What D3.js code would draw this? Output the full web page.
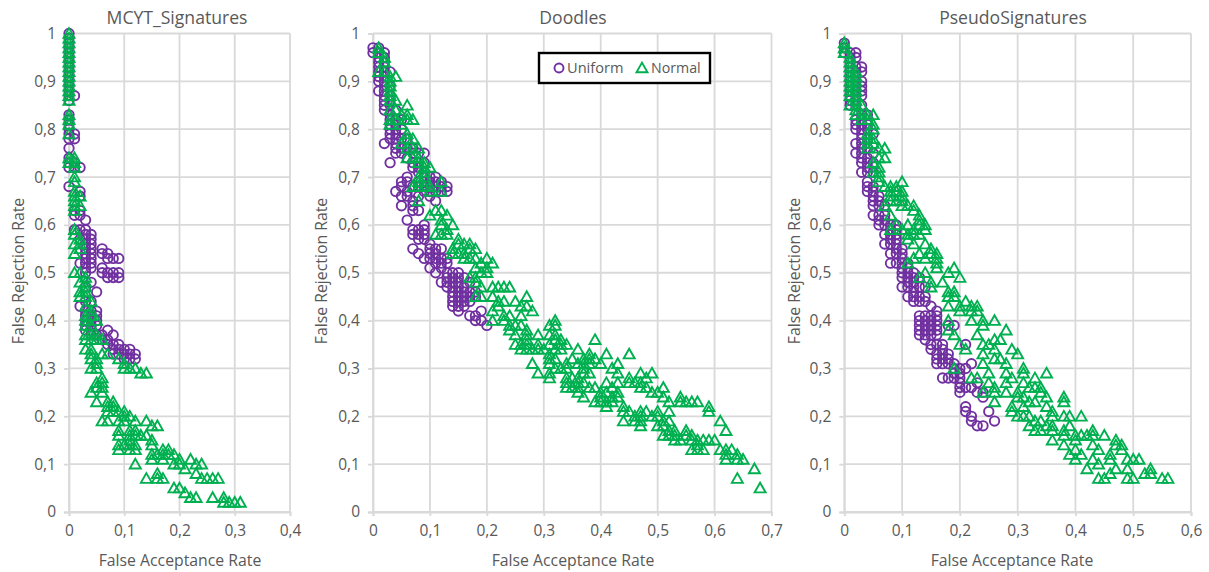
<!DOCTYPE html>
<html><head><meta charset="utf-8">
<script src="https://cdn.jsdelivr.net/npm/d3@7/dist/d3.min.js"></script>
<style>html,body{margin:0;padding:0;background:#fff}svg{display:block}text{font-family:"Open Sans",sans-serif}</style>
</head><body><svg id="c" width="1209" height="572"></svg>
<script>
// Uniform series: [x, [y values at that x]]
const mcytUniform=[
[0,[1,.99,.98,.97,.96,.95,.94,.93,.92,.91,.9,.89,.88,.87,.86,.83,.82,.81,.8,.79,.78,.76,.74,.73,.72,.68]],
[.01,[.87,.79,.78,.73,.72,.63,.62,.59]],
[.02,[.72,.67,.66,.63,.62,.59,.57,.52,.43]],
[.03,[.61,.59,.58,.57,.56,.55,.54,.53,.52,.51,.5,.47,.44,.42,.41,.4,.39,.38]],
[.04,[.58,.57,.56,.55,.54,.53,.52,.51,.48,.44,.42,.41,.4,.39,.38,.37]],
[.05,[.46,.42,.41,.4,.39,.37]],
[.06,[.55,.54,.51,.5,.37,.36]],
[.07,[.54,.53,.5,.49,.38,.36,.35]],
[.08,[.53,.5,.49,.37,.35,.34,.33]],
[.09,[.53,.5,.49,.35,.34,.33]],
[.1,[.34,.33,.32]],
[.11,[.34,.33,.32]],
[.12,[.33,.32]]];
const doodlesUniform=[
[0,[.97,.96]],
[.01,[.97,.96,.95,.94,.93,.92,.91,.9,.88]],
[.02,[.96,.95,.94,.93,.92,.91,.9,.89,.88,.87,.86,.85,.84,.77]],
[.03,[.92,.89,.87,.86,.85,.83,.82,.81,.8,.79,.78,.73]],
[.04,[.84,.82,.81,.8,.79,.78,.77,.76,.75,.67]],
[.05,[.82,.8,.78,.76,.75,.69,.68,.66,.64]],
[.06,[.78,.76,.74,.7,.69,.67,.66,.61]],
[.07,[.76,.75,.73,.72,.68,.65,.64,.63,.59,.58,.55]],
[.08,[.75,.73,.72,.71,.69,.68,.66,.63,.59,.58,.57,.54]],
[.09,[.75,.73,.71,.7,.69,.68,.67,.6,.59,.58,.57,.53]],
[.1,[.7,.69,.68,.67,.66,.56,.55,.54,.53,.51]],
[.11,[.7,.69,.68,.67,.65,.55,.54,.53,.52,.5]],
[.12,[.69,.68,.67,.55,.53,.52,.51,.48]],
[.13,[.68,.67,.53,.52,.5,.49,.48,.47]],
[.14,[.5,.49,.48,.47,.46,.45,.44,.43]],
[.15,[.5,.49,.48,.47,.46,.45,.44,.43,.42]],
[.16,[.49,.47,.46,.45,.44,.43]],
[.17,[.48,.46,.45,.44,.41]],
[.18,[.46,.45,.41,.4]],
[.19,[.42,.4]],
[.2,[.39]]];
const pseudoUniform=[
[0,[.98,.97,.96]],
[.01,[.96,.95,.94,.93,.92,.91,.9,.89,.88,.87,.86,.85]],
[.02,[.96,.95,.93,.92,.91,.9,.89,.88,.87,.86,.85,.82,.81,.8,.77,.75]],
[.03,[.93,.92,.9,.89,.88,.87,.85,.83,.82,.81,.8,.79,.78,.77,.76,.75,.74,.73,.71]],
[.04,[.83,.81,.8,.78,.76,.74,.73,.72,.71,.69,.68,.67]],
[.05,[.79,.75,.73,.71,.68,.67,.66,.65,.64,.62]],
[.06,[.66,.65,.64,.62,.61,.6]],
[.07,[.64,.62,.61,.6,.58,.56]],
[.08,[.6,.59,.58,.57,.56,.54,.52]],
[.09,[.6,.59,.58,.57,.56,.55,.54,.52]],
[.1,[.55,.54,.53,.52,.51,.5,.49,.47]],
[.11,[.52,.51,.5,.49,.48,.47,.45]],
[.12,[.5,.49,.48,.47,.46,.45,.44]],
[.13,[.49,.47,.45,.44,.41,.4,.39,.38,.37]],
[.14,[.47,.45,.44,.41,.4,.39,.38,.37,.36]],
[.15,[.43,.41,.4,.39,.38,.37,.35,.34]],
[.16,[.42,.41,.4,.39,.38,.37,.35,.33,.32,.31]],
[.17,[.35,.34,.33,.32,.31,.28]],
[.18,[.39,.33,.32,.31,.28]],
[.19,[.39,.31,.3,.29,.28]],
[.2,[.3,.29,.28,.27,.26,.25]],
[.21,[.35,.3,.26,.22,.21]],
[.22,[.31,.26,.2,.19]],
[.23,[.27,.25,.18]],
[.24,[.25,.24,.18]],
[.25,[.21]],
[.26,[.19]]];
// Normal series: [x, y]
const mcytNormal=[[0,1],[0,.99],[0,.98],[0,.97],[0,.96],[0,.95],[0,.94],[0,.93],[0,.92],[0,.91],[0,.9],[0,.89],[0,.88],[0,.87],[0,.86],[0,.83],[0,.82],[0,.81],[0,.79],[0,.74],[0,.73],[.01,.74],[.01,.73],[.01,.72],[.01,.7],[.01,.69],[.01,.67],[.01,.66],[.01,.65],[.01,.64],[.01,.63],[.02,.66],[.02,.64],[.01,.59],[.01,.58],[.01,.56],[.01,.54],[.02,.57],[.02,.56],[.02,.55],[.01,.5],[.02,.5],[.02,.48],[.03,.49],[.03,.48],[.03,.47],[.02,.46],[.02,.45],[.03,.46],[.03,.45],[.03,.43],[.04,.44],[.04,.42],[.03,.41],[.03,.4],[.03,.39],[.04,.41],[.05,.4],[.04,.39],[.03,.37],[.03,.36],[.04,.37],[.04,.36],[.05,.37],[.05,.36],[.06,.36],[.03,.34],[.04,.34],[.04,.33],[.04,.32],[.05,.32],[.05,.31],[.04,.3],[.05,.3],[.07,.33],[.06,.33],[.09,.32],[.1,.31],[.1,.3],[.11,.3],[.12,.3],[.13,.29],[.14,.29],[.06,.28],[.06,.27],[.05,.27],[.06,.26],[.05,.26],[.04,.25],[.06,.25],[.05,.23],[.07,.23],[.08,.23],[.07,.22],[.08,.22],[.08,.21],[.07,.21],[.09,.21],[.1,.21],[.1,.2],[.11,.2],[.1,.19],[.12,.19],[.06,.19],[.07,.19],[.09,.19],[.14,.19],[.15,.18],[.16,.18],[.09,.17],[.09,.16],[.11,.17],[.12,.17],[.11,.16],[.12,.16],[.13,.16],[.14,.16],[.15,.15],[.15,.14],[.09,.14],[.09,.13],[.1,.14],[.11,.15],[.11,.14],[.11,.13],[.12,.14],[.12,.13],[.17,.13],[.18,.13],[.16,.12],[.17,.12],[.18,.12],[.19,.12],[.15,.12],[.15,.11],[.17,.11],[.19,.1],[.2,.11],[.2,.1],[.22,.11],[.23,.1],[.24,.1],[.21,.09],[.23,.08],[.24,.07],[.25,.07],[.26,.07],[.27,.07],[.12,.1],[.14,.07],[.16,.08],[.16,.07],[.17,.07],[.19,.05],[.2,.05],[.21,.04],[.22,.03],[.23,.03],[.26,.03],[.28,.03],[.28,.02],[.29,.02],[.3,.02],[.31,.02]];
const doodlesNormal=[[.01,.97],[.01,.96],[.02,.95],[.02,.94],[.01,.92],[.02,.92],[.03,.91],[.04,.91],[.03,.9],[.03,.89],[.03,.88],[.03,.87],[.03,.86],[.04,.86],[.03,.84],[.04,.84],[.03,.82],[.03,.81],[.04,.82],[.05,.83],[.06,.85],[.06,.83],[.07,.82],[.06,.82],[.05,.81],[.06,.79],[.05,.77],[.06,.78],[.06,.76],[.07,.78],[.07,.76],[.08,.76],[.06,.74],[.07,.74],[.08,.74],[.08,.73],[.09,.73],[.1,.72],[.09,.72],[.09,.71],[.08,.7],[.09,.7],[.08,.69],[.07,.68],[.08,.68],[.09,.68],[.1,.68],[.1,.67],[.12,.69],[.12,.67],[.08,.65],[.1,.62],[.11,.63],[.12,.63],[.13,.62],[.12,.61],[.12,.6],[.14,.6],[.13,.59],[.11,.58],[.12,.58],[.13,.58],[.15,.57],[.14,.55],[.15,.56],[.16,.56],[.17,.56],[.18,.55],[.14,.54],[.15,.54],[.16,.54],[.17,.53],[.17,.55],[.18,.53],[.16,.53],[.17,.49],[.2,.53],[.19,.52],[.21,.52],[.18,.51],[.19,.5],[.2,.5],[.2,.51],[.18,.49],[.18,.48],[.18,.45],[.19,.47],[.21,.47],[.22,.47],[.23,.47],[.24,.47],[.19,.45],[.21,.45],[.23,.44],[.25,.44],[.27,.45],[.26,.43],[.27,.43],[.28,.42],[.22,.44],[.22,.43],[.21,.42],[.23,.41],[.24,.41],[.26,.41],[.21,.4],[.23,.4],[.24,.39],[.25,.39],[.26,.39],[.24,.38],[.27,.38],[.25,.37],[.27,.37],[.29,.37],[.27,.36],[.25,.35],[.26,.35],[.26,.34],[.27,.35],[.27,.34],[.28,.34],[.29,.35],[.3,.34],[.29,.34],[.28,.31],[.29,.29],[.32,.4],[.31,.39],[.32,.39],[.31,.37],[.32,.37],[.33,.36],[.33,.35],[.34,.35],[.32,.36],[.31,.35],[.32,.34],[.33,.34],[.31,.33],[.31,.32],[.31,.31],[.32,.32],[.31,.29],[.31,.28],[.32,.3],[.33,.3],[.34,.31],[.34,.3],[.35,.32],[.36,.34],[.36,.31],[.38,.33],[.38,.32],[.39,.32],[.37,.32],[.37,.31],[.38,.31],[.39,.36],[.41,.33],[.4,.31],[.45,.33],[.43,.31],[.42,.3],[.43,.29],[.34,.28],[.34,.27],[.35,.28],[.34,.26],[.36,.28],[.37,.3],[.37,.29],[.38,.29],[.36,.27],[.36,.26],[.36,.25],[.37,.27],[.37,.24],[.38,.26],[.39,.26],[.35,.26],[.41,.27],[.42,.26],[.4,.24],[.4,.25],[.41,.25],[.42,.24],[.43,.27],[.43,.25],[.39,.23],[.4,.23],[.41,.23],[.42,.23],[.41,.22],[.43,.24],[.45,.28],[.45,.27],[.46,.27],[.47,.29],[.47,.27],[.48,.28],[.49,.29],[.47,.26],[.48,.26],[.49,.25],[.5,.25],[.51,.26],[.51,.24],[.52,.23],[.54,.24],[.54,.23],[.55,.23],[.56,.23],[.57,.23],[.59,.22],[.59,.21],[.61,.19],[.62,.17],[.52,.21],[.44,.22],[.44,.21],[.45,.21],[.44,.19],[.46,.2],[.47,.21],[.47,.2],[.48,.21],[.46,.19],[.47,.19],[.47,.18],[.49,.2],[.5,.21],[.5,.2],[.51,.19],[.5,.18],[.52,.19],[.51,.18],[.52,.17],[.53,.17],[.51,.16],[.52,.16],[.53,.16],[.54,.15],[.55,.17],[.55,.16],[.56,.15],[.56,.16],[.53,.15],[.57,.15],[.58,.15],[.59,.15],[.6,.15],[.56,.13],[.57,.14],[.57,.13],[.58,.13],[.61,.13],[.62,.13],[.62,.12],[.62,.11],[.63,.13],[.64,.12],[.64,.11],[.65,.11],[.67,.09],[.64,.07],[.68,.05]];
const pseudoNormal=[[0,.98],[0,.97],[0,.96],[.01,.95],[.01,.94],[.01,.93],[.01,.92],[.01,.91],[.01,.9],[.01,.89],[.01,.88],[.01,.87],[.01,.85],[.02,.92],[.02,.91],[.02,.9],[.02,.89],[.02,.88],[.02,.87],[.02,.86],[.02,.85],[.02,.84],[.02,.83],[.03,.85],[.03,.83],[.03,.82],[.04,.83],[.05,.83],[.04,.82],[.05,.81],[.05,.8],[.04,.79],[.05,.78],[.04,.78],[.04,.77],[.05,.77],[.04,.76],[.06,.76],[.07,.76],[.06,.74],[.07,.74],[.05,.73],[.06,.72],[.05,.71],[.06,.71],[.06,.7],[.06,.69],[.1,.69],[.07,.68],[.08,.68],[.09,.68],[.08,.67],[.09,.67],[.1,.67],[.08,.66],[.1,.66],[.1,.65],[.09,.65],[.08,.65],[.1,.64],[.07,.64],[.11,.64],[.12,.64],[.12,.63],[.08,.62],[.13,.62],[.13,.61],[.09,.6],[.08,.59],[.1,.59],[.11,.6],[.14,.6],[.13,.6],[.12,.59],[.14,.59],[.12,.58],[.13,.58],[.11,.58],[.11,.57],[.12,.56],[.14,.56],[.15,.55],[.15,.54],[.16,.54],[.13,.54],[.14,.53],[.12,.53],[.11,.52],[.16,.53],[.16,.52],[.16,.51],[.19,.51],[.18,.5],[.2,.49],[.13,.49],[.14,.5],[.15,.48],[.15,.47],[.17,.48],[.18,.46],[.19,.46],[.18,.45],[.19,.45],[.18,.43],[.2,.43],[.2,.42],[.21,.44],[.22,.43],[.23,.43],[.22,.42],[.23,.42],[.26,.4],[.22,.4],[.24,.4],[.24,.39],[.18,.4],[.18,.38],[.23,.37],[.19,.37],[.2,.35],[.21,.34],[.28,.38],[.26,.36],[.27,.36],[.25,.35],[.24,.35],[.29,.34],[.3,.33],[.26,.34],[.24,.33],[.26,.32],[.27,.32],[.28,.31],[.24,.31],[.19,.3],[.31,.3],[.31,.29],[.25,.29],[.28,.29],[.29,.28],[.23,.28],[.22,.28],[.35,.29],[.25,.27],[.28,.27],[.31,.27],[.33,.28],[.32,.26],[.33,.26],[.34,.25],[.26,.26],[.24,.25],[.26,.25],[.28,.25],[.3,.25],[.34,.26],[.35,.24],[.38,.24],[.38,.23],[.26,.23],[.3,.24],[.31,.24],[.32,.23],[.33,.23],[.29,.22],[.29,.21],[.31,.22],[.3,.2],[.31,.2],[.32,.2],[.35,.22],[.36,.21],[.36,.2],[.38,.2],[.39,.2],[.41,.2],[.32,.18],[.33,.19],[.34,.19],[.33,.17],[.34,.17],[.35,.18],[.36,.18],[.36,.17],[.36,.15],[.38,.17],[.38,.16],[.39,.18],[.4,.16],[.41,.16],[.42,.16],[.43,.17],[.43,.16],[.45,.16],[.38,.14],[.4,.15],[.4,.13],[.39,.12],[.41,.12],[.4,.11],[.43,.14],[.43,.11],[.44,.13],[.44,.1],[.46,.12],[.46,.11],[.47,.15],[.47,.14],[.48,.14],[.48,.13],[.49,.11],[.5,.11],[.51,.11],[.42,.09],[.47,.09],[.49,.09],[.46,.08],[.44,.07],[.45,.07],[.49,.07],[.5,.07],[.52,.08],[.53,.09],[.53,.08],[.55,.07],[.56,.07]];
const titles=["MCYT_Signatures","Doodles","PseudoSignatures"];
const xTicksA=[0,.1,.2,.3,.4];
const xTicksB=[0,.1,.2,.3,.4,.5,.6,.7];
const xTicksC=[0,.1,.2,.3,.4,.5,.6];
const yTicks=[0,.1,.2,.3,.4,.5,.6,.7,.8,.9,1];
const legendLabels=["Uniform","Normal"];
const xAxisTitle="False Acceptance Rate", yAxisTitle="False Rejection Rate";

const PURPLE="#7030A0",GREEN="#00B050",GRID="#d9d9d9",TEXT="#595959";
const columnsToPairs=c=>c.flatMap(([x,ys])=>ys.map(y=>[x,y]));
const panels=[
 {title:titles[0],u:columnsToPairs(mcytUniform),n:mcytNormal,ticks:xTicksA,xMax:.4,x0:69,x1:290,ty:18,ylx:18,tx:177,xtx:180},
 {title:titles[1],u:columnsToPairs(doodlesUniform),n:doodlesNormal,ticks:xTicksB,xMax:.7,x0:373,x1:771.5,ty:18,ylx:321,tx:573,xtx:573},
 {title:titles[2],u:columnsToPairs(pseudoUniform),n:pseudoNormal,ticks:xTicksC,xMax:.6,x0:844.3,x1:1191,ty:18,ylx:794,tx:1013,xtx:1012}
];
const svg=d3.select("#c");
const yTop=33.5,yBot=512;
const fmt=v=>String(+v.toFixed(1)).replace(".",",");
const triPath=(cx,cy,s)=>`M${cx},${cy-s}L${cx+s*1.02},${cy+s*.8}L${cx-s*1.02},${cy+s*.8}Z`;
const drawAxis=(sel)=>{
 sel.selectAll(".domain").attr("stroke",GRID).attr("stroke-width",1.8);
 sel.selectAll(".tick line").attr("stroke",GRID).attr("stroke-width",1.8);
 sel.selectAll("text").attr("fill",TEXT).style("font-family",'"Open Sans",sans-serif').style("font-size","15.5px");
};
panels.forEach(p=>{
 const x=d3.scaleLinear().domain([0,p.xMax]).range([p.x0,p.x1]);
 const y=d3.scaleLinear().domain([0,1]).range([yBot,yTop]);
 const g=svg.append("g");
 g.append("g").selectAll("line").data(yTicks).join("line")
  .attr("x1",p.x0).attr("x2",p.x1).attr("y1",d=>y(d)).attr("y2",d=>y(d)).attr("stroke",GRID).attr("stroke-width",1.8);
 g.append("g").selectAll("line").data(p.ticks).join("line")
  .attr("x1",d=>x(d)).attr("x2",d=>x(d)).attr("y1",yTop).attr("y2",yBot).attr("stroke",GRID).attr("stroke-width",1.8);
 const ax=g.append("g").attr("transform",`translate(0,${yBot})`)
  .call(d3.axisBottom(x).tickValues(p.ticks).tickFormat(fmt).tickSize(4).tickPadding(9));
 drawAxis(ax);
 const ay=g.append("g").attr("transform",`translate(${p.x0},0)`)
  .call(d3.axisLeft(y).tickValues(yTicks).tickFormat(fmt).tickSize(5).tickPadding(8));
 drawAxis(ay);
 g.append("g").selectAll("circle").data(p.u).join("circle")
  .attr("cx",d=>x(d[0])).attr("cy",d=>y(d[1])).attr("r",4.7)
  .attr("fill","none").attr("stroke",PURPLE).attr("stroke-width",1.9);
 g.append("g").selectAll("path").data(p.n).join("path")
  .attr("d",d=>triPath(x(d[0]),y(d[1]),5.4))
  .attr("fill","none").attr("stroke",GREEN).attr("stroke-width",1.9);
 g.append("text").attr("x",p.tx).attr("y",p.ty).attr("dy","0.35em").attr("text-anchor","middle")
  .attr("fill",TEXT).style("font-size","17.6px").text(p.title);
 g.append("text").attr("x",p.xtx).attr("y",560.5).attr("dy","0.35em").attr("text-anchor","middle")
  .attr("fill",TEXT).style("font-size","15.8px").text(xAxisTitle);
 g.append("text").attr("transform",`translate(${p.ylx},271) rotate(-90)`).attr("dy","0.35em").attr("text-anchor","middle")
  .attr("fill",TEXT).style("font-size","15.8px").text(yAxisTitle);
});
const lg=svg.append("g");
lg.append("rect").attr("x",539).attr("y",53).attr("width",171).attr("height",30).attr("fill","#fff").attr("stroke","#000").attr("stroke-width",2.4);
lg.append("circle").attr("cx",559).attr("cy",68).attr("r",4.5).attr("fill","none").attr("stroke",PURPLE).attr("stroke-width",1.9);
lg.append("path").attr("d",triPath(642,68,5.4)).attr("fill","none").attr("stroke",GREEN).attr("stroke-width",1.9);
lg.append("text").attr("x",567).attr("y",68).attr("dy","0.35em").attr("fill",TEXT).style("font-size","14.6px").text(legendLabels[0]);
lg.append("text").attr("x",651).attr("y",68).attr("dy","0.35em").attr("fill",TEXT).style("font-size","14.2px").text(legendLabels[1]);
</script></body></html>
